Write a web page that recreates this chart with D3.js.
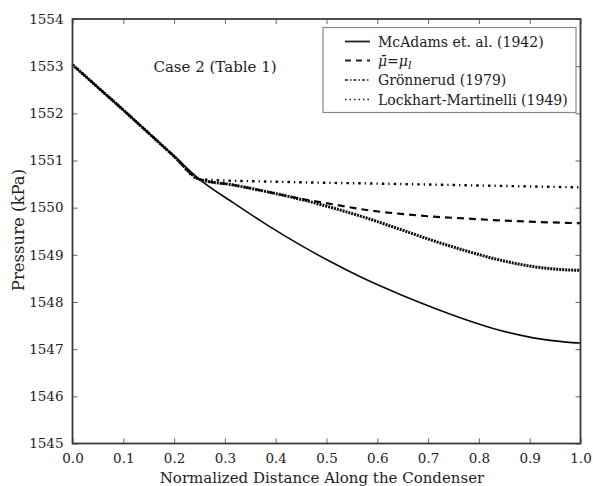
<!DOCTYPE html>
<html><head><meta charset="utf-8">
<script src="https://cdn.jsdelivr.net/npm/d3@7"></script>
<style>
body{margin:0;background:#fff;}
svg{display:block;}
svg text{font-family:"DejaVu Serif",serif !important;}
</style></head>
<body><svg id="c" width="593" height="486"></svg>
<script>
// ---- data ----
const entranceX = [0, 0.05, 0.10, 0.15, 0.20, 0.25];
const entranceP = [1553.03, 1552.55, 1552.07, 1551.58, 1551.09, 1550.60];

const mcadamsX = [0.317, 0.382, 0.448, 0.514, 0.579, 0.645, 0.710, 0.776, 0.841, 0.907, 0.972, 1.0];
const mcadamsP = [1550.10, 1549.64, 1549.21, 1548.82, 1548.47, 1548.16, 1547.88, 1547.62, 1547.40, 1547.24, 1547.15, 1547.13];

const muX = [0.317, 0.382, 0.448, 0.514, 0.579, 0.645, 0.710, 0.776, 0.841, 0.907, 1.0];
const muP = [1550.48, 1550.34, 1550.19, 1550.07, 1549.95, 1549.87, 1549.81, 1549.77, 1549.73, 1549.70, 1549.67];

const gronX = [0.317, 0.382, 0.448, 0.514, 0.579, 0.645, 0.710, 0.776, 0.841, 0.907, 0.96, 1.0];
const gronP = [1550.48, 1550.34, 1550.18, 1549.99, 1549.78, 1549.54, 1549.30, 1549.08, 1548.89, 1548.75, 1548.69, 1548.67];

const lmX = [0.40, 0.60, 0.80, 1.0];
const lmP = [1550.55, 1550.51, 1550.47, 1550.43];

const xTicks = [0, 0.1, 0.2, 0.3, 0.4, 0.5, 0.6, 0.7, 0.8, 0.9, 1.0];
const yTicks = [1545, 1546, 1547, 1548, 1549, 1550, 1551, 1552, 1553, 1554];

const legendLabels = ["McAdams et. al. (1942)", "mu", "Grönnerud (1979)", "Lockhart-Martinelli (1949)"];

// ---- layout ----
const svg = d3.select("#c");
const L = 72.5, R = 580.5, T = 19, B = 443.5;
const x = d3.scaleLinear().domain([0, 1]).range([L, R]);
const y = d3.scaleLinear().domain([1545, 1554]).range([B, T]);
const frameCol = "#3a3a3a";

function pts(xs, ys) { return xs.map((v, i) => [v, ys[i]]); }
const withEntrance = (xs, ys) => pts(entranceX, entranceP).concat(pts(xs, ys));

const line = d3.line().x(d => x(d[0])).y(d => y(d[1])).curve(d3.curveMonotoneX);

const series = [
  {data: withEntrance(mcadamsX, mcadamsP), w: 1.6, dash: null},
  {data: withEntrance(muX, muP), w: 2.2, dash: "7,5"},
  {data: withEntrance(gronX, gronP), w: 3, dash: "2,1"},
  {data: withEntrance(lmX, lmP), w: 2.4, dash: "2.5,4,1.3,4"}
];

const g = svg.append("g");
series.forEach(s => {
  g.append("path").attr("d", line(s.data)).attr("fill", "none")
    .attr("stroke", "#0a0a0a").attr("stroke-width", s.w)
    .attr("stroke-dasharray", s.dash);
});

// ---- axes (ticks inward on all sides) ----
const tl = 5;
const axB = d3.axisBottom(x).tickValues(xTicks).tickSize(-tl).tickPadding(10).tickFormat(d3.format(".1f"));
const axT = d3.axisTop(x).tickValues(xTicks).tickSize(-tl).tickFormat("");
const axL = d3.axisLeft(y).tickValues(yTicks).tickSize(-tl).tickPadding(9).tickFormat(d3.format("d"));
const axR = d3.axisRight(y).tickValues(yTicks).tickSize(-tl).tickFormat("");

function style(sel) {
  sel.select(".domain").remove();
  sel.selectAll("line").attr("stroke", "#666").attr("stroke-width", 1);
  sel.selectAll("text").attr("font-size", 13.5).attr("fill", "#222");
}
svg.append("g").attr("transform", `translate(0,${B})`).call(axB).call(style);
svg.append("g").attr("transform", `translate(0,${T})`).call(axT).call(style);
svg.append("g").attr("transform", `translate(${L},0)`).call(axL).call(style);
svg.append("g").attr("transform", `translate(${R},0)`).call(axR).call(style);

svg.append("rect").attr("x", L).attr("y", T).attr("width", R - L).attr("height", B - T)
  .attr("fill", "none").attr("stroke", frameCol).attr("stroke-width", 1.8);

// ---- labels ----
svg.append("text").attr("x", 322).attr("y", 483).attr("text-anchor", "middle")
  .attr("font-size", 15).attr("fill", "#222").text("Normalized Distance Along the Condenser");
svg.append("text").attr("transform", "translate(24,230) rotate(-90)").attr("text-anchor", "middle")
  .attr("font-size", 16.5).attr("fill", "#222").text("Pressure (kPa)");
svg.append("text").attr("x", 215).attr("y", 72).attr("text-anchor", "middle")
  .attr("font-size", 15).attr("fill", "#222").text("Case 2 (Table 1)");

// ---- legend ----
const lg = svg.append("g");
lg.append("rect").attr("x", 323).attr("y", 27.5).attr("width", 253).attr("height", 85)
  .attr("fill", "#fff").attr("stroke", "#888").attr("stroke-width", 1.2);
const ly = [41.5, 60.5, 80, 99.5];
const lStyles = [{w: 1.8, dash: null}, {w: 2.2, dash: "6,5"}, {w: 1.5, dash: "3,2,1.5,2"}, {w: 1.5, dash: "1.5,3"}];
legendLabels.forEach((t, i) => {
  lg.append("line").attr("x1", 345).attr("x2", 370).attr("y1", ly[i]).attr("y2", ly[i])
    .attr("stroke", "#222").attr("stroke-width", lStyles[i].w).attr("stroke-dasharray", lStyles[i].dash);
  const tx = lg.append("text").attr("x", 378).attr("y", ly[i] + 5).attr("font-size", 14).attr("fill", "#222");
  if (t === "mu") {
    tx.attr("font-style", "italic");
    tx.append("tspan").text("μ̄");
    tx.append("tspan").attr("font-style", "normal").text("=");
    tx.append("tspan").text("μ");
    tx.append("tspan").attr("dy", 3).attr("font-size", 11).text("l");
  } else tx.text(t);
});
</script></body></html>
